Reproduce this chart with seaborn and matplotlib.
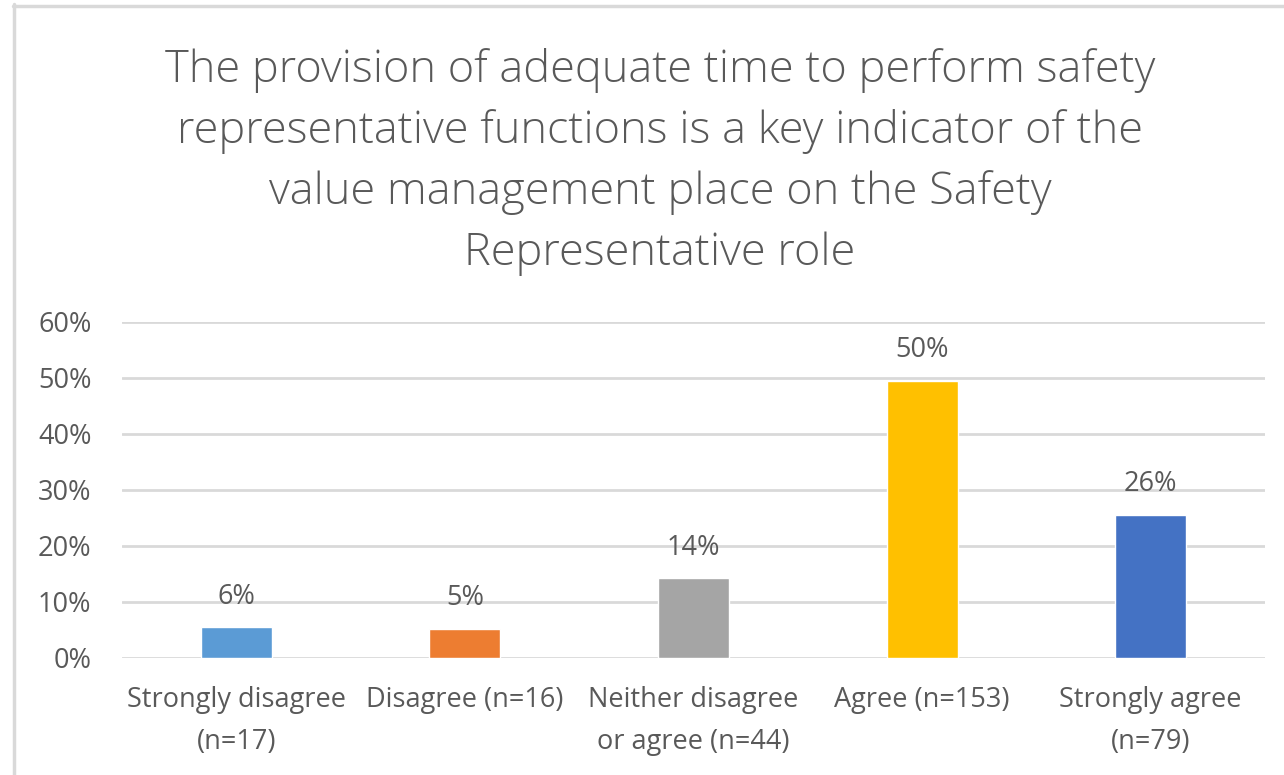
import matplotlib
matplotlib.use("Agg")
import matplotlib.pyplot as plt
from matplotlib.lines import Line2D
import seaborn as sns
import pandas as pd

# Survey responses
categories = [
    "Strongly disagree\n(n=17)",
    "Disagree (n=16)",
    "Neither disagree\nor agree (n=44)",
    "Agree (n=153)",
    "Strongly agree\n(n=79)",
]
counts = [17, 16, 44, 153, 79]
colors = ["#5B9BD5", "#ED7D31", "#A5A5A5", "#FFC000", "#4472C4"]
y_ticks = [0.0, 0.1, 0.2, 0.3, 0.4, 0.5, 0.6]
y_tick_labels = ["0%", "10%", "20%", "30%", "40%", "50%", "60%"]
title = ("The provision of adequate time to perform safety\n"
         "representative functions is a key indicator of the\n"
         "value management place on the Safety\n"
         "Representative role")

total = sum(counts)
shares = [c / total for c in counts]
df = pd.DataFrame({"category": categories, "share": shares})

sns.set_theme(style="white")
plt.rcParams["font.family"] = ["Open Sans", "DejaVu Sans"]

text_color = "#595959"
grid_color = "#D9D9D9"

fig = plt.figure(figsize=(12.84, 7.75), dpi=100)
ax = fig.add_axes([122 / 1284, 1 - 658 / 775, (1265 - 122) / 1284, (658 - 322) / 775])

sns.barplot(data=df, x="category", y="share", hue="category",
            palette=colors, width=0.31, legend=False, ax=ax,
            saturation=1, zorder=3)

ax.set_ylim(0, 0.6)
ax.set_xlim(-0.5, len(categories) - 0.5)
ax.set_yticks(y_ticks)
ax.set_yticklabels(y_tick_labels)
ax.yaxis.grid(True, color=grid_color, linewidth=2, zorder=0)
ax.set_axisbelow(True)
for s in ax.spines.values():
    s.set_visible(False)
ax.set_xlabel("")
ax.set_ylabel("")
ax.tick_params(axis="y", length=0, pad=22, labelsize=19.5, labelcolor=text_color)
ax.tick_params(axis="x", length=0, pad=20.5, labelsize=19.5, labelcolor=text_color)
for lbl in ax.get_xticklabels():
    lbl.set_linespacing(1.65)

# Value labels above bars
for i, v in enumerate(shares):
    ax.annotate(f"{v:.0%}", xy=(i, v), xytext=(0, 12), textcoords="offset points",
                ha="center", va="bottom", fontsize=19.5, color=text_color)

fig.text(660 / 1284, 1 - 162 / 775, title, ha="center", va="center",
         fontsize=32.5, color=text_color, linespacing=1.47, fontweight="light")

# Chart frame edges
fig.add_artist(Line2D([13 / 1284, 1], [1 - 5.5 / 775, 1 - 5.5 / 775],
                      transform=fig.transFigure, color=grid_color, linewidth=2.5))
fig.add_artist(Line2D([13.5 / 1284, 13.5 / 1284], [0, 1 - 4 / 775],
                      transform=fig.transFigure, color=grid_color, linewidth=2.5))

fig.savefig("out.png", dpi=100, facecolor="white")
